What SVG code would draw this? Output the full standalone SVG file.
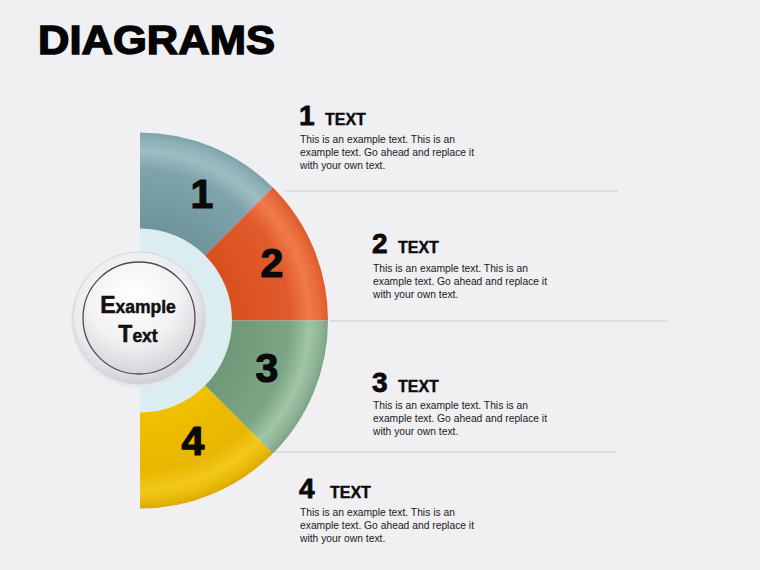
<svg xmlns="http://www.w3.org/2000/svg" width="760" height="570" viewBox="0 0 760 570">
<defs>
<style>
.num{font-family:"Liberation Sans",Arial,sans-serif;font-weight:bold;fill:#0a0a0a;stroke:#0a0a0a;stroke-linejoin:round}
.seg-num{font-size:41px;stroke-width:1.2;text-anchor:middle}
.head-num{font-size:28px;stroke-width:0.8}
.head{font-family:"Liberation Sans",Arial,sans-serif;font-weight:bold;font-size:16px;fill:#0a0a0a;stroke:#0a0a0a;stroke-width:0.4}
.body{font-family:"Liberation Sans",Arial,sans-serif;font-size:10.3px;fill:#1a1a1a}
.sep{stroke:#c9c9ce;stroke-width:1.2;fill:none}
.ctr{font-family:"Liberation Sans",Arial,sans-serif;font-weight:bold;fill:#111;stroke:#111;stroke-width:0.5;text-anchor:middle}
</style>
<radialGradient id="g1" gradientUnits="userSpaceOnUse" cx="140" cy="320.5" r="188">
<stop offset="0.49" stop-color="#6f949c"/><stop offset="0.8" stop-color="#7fa3ab"/><stop offset="0.9" stop-color="#9ebdc3"/><stop offset="0.96" stop-color="#8eb0b7"/><stop offset="1" stop-color="#7fa2aa"/>
</radialGradient>
<radialGradient id="g2" gradientUnits="userSpaceOnUse" cx="140" cy="320.5" r="188">
<stop offset="0.49" stop-color="#d9501f"/><stop offset="0.8" stop-color="#e25b2c"/><stop offset="0.9" stop-color="#f07a4c"/><stop offset="0.96" stop-color="#e86a3a"/><stop offset="1" stop-color="#e0592b"/>
</radialGradient>
<radialGradient id="g3" gradientUnits="userSpaceOnUse" cx="140" cy="320.5" r="188">
<stop offset="0.49" stop-color="#6e9878"/><stop offset="0.8" stop-color="#7ca585"/><stop offset="0.9" stop-color="#a0c4a6"/><stop offset="0.96" stop-color="#8fb597"/><stop offset="1" stop-color="#7ea487"/>
</radialGradient>
<radialGradient id="g4" gradientUnits="userSpaceOnUse" cx="140" cy="320.5" r="188">
<stop offset="0.49" stop-color="#f0c000"/><stop offset="0.8" stop-color="#e8b600"/><stop offset="0.9" stop-color="#f2c81c"/><stop offset="0.96" stop-color="#e9b90a"/><stop offset="1" stop-color="#dcaa00"/>
</radialGradient>
<radialGradient id="cOuter" cx="0.45" cy="0.4" r="0.6">
<stop offset="0" stop-color="#ffffff"/><stop offset="0.75" stop-color="#ececef"/><stop offset="1" stop-color="#cfcfd4"/>
</radialGradient>
<radialGradient id="cInner" cx="0.45" cy="0.3" r="0.75">
<stop offset="0" stop-color="#ffffff"/><stop offset="0.55" stop-color="#f2f2f4"/><stop offset="1" stop-color="#cfd0d4"/>
</radialGradient>
</defs>
<rect width="760" height="570" fill="#f0eff2"/>
<text x="38" y="54" font-family="Liberation Sans,Arial,sans-serif" font-weight="bold" font-size="40" fill="#050505" stroke="#050505" stroke-width="1.4" textLength="237" lengthAdjust="spacingAndGlyphs">DIAGRAMS</text>

<g id="separators">
<line class="sep" x1="285" y1="191" x2="618" y2="191"/>
<line class="sep" x1="330" y1="321" x2="667" y2="321"/>
<line class="sep" x1="272" y1="452" x2="616" y2="452"/>
</g>

<path id="inner-ring" d="M140,228.5 A92,92 0 0 1 140,412.5 Z" fill="#dcedf1"/>

<g id="segment-1">
<path d="M140,132.5 A188,188 0 0 1 272.9,187.6 L205.05,255.45 A92,92 0 0 0 140,228.5 Z" fill="url(#g1)"/>
<text class="num seg-num" x="202" y="208">1</text>
</g>
<g id="segment-2">
<path d="M272.9,187.6 A188,188 0 0 1 328,320.5 L232,320.5 A92,92 0 0 0 205.05,255.45 Z" fill="url(#g2)"/>
<text class="num seg-num" x="272" y="277">2</text>
</g>
<g id="segment-3">
<path d="M328,320.5 A188,188 0 0 1 272.9,453.4 L205.05,385.55 A92,92 0 0 0 232,320.5 Z" fill="url(#g3)"/>
<text class="num seg-num" x="267" y="382">3</text>
</g>
<g id="segment-4">
<path d="M272.9,453.4 A188,188 0 0 1 140,508.5 L140,412.5 A92,92 0 0 0 205.05,385.55 Z" fill="url(#g4)"/>
<text class="num seg-num" x="193" y="455">4</text>
</g>

<g id="center">
<circle cx="139" cy="320" r="68" fill="#e4e4e8" opacity="0.7"/>
<circle cx="139" cy="318" r="66" fill="url(#cOuter)" stroke="#d4d4d8" stroke-width="1"/>
<circle cx="139" cy="318" r="56" fill="url(#cInner)" stroke="#4a4a4e" stroke-width="1.3"/>
<text class="ctr" x="138" y="313"><tspan font-size="23">E</tspan><tspan font-size="17.5">xample</tspan></text>
<text class="ctr" x="138" y="342"><tspan font-size="23">T</tspan><tspan font-size="17.5">ext</tspan></text>
</g>

<g id="block-1">
<text class="num head-num" x="299" y="125">1</text>
<text class="head" x="325" y="125">TEXT</text>
<text class="body" x="300" y="143">This is an example text. This is an</text>
<text class="body" x="300" y="156">example text. Go ahead and replace it</text>
<text class="body" x="300" y="169">with your own text.</text>
</g>
<g id="block-2">
<text class="num head-num" x="372" y="253">2</text>
<text class="head" x="398" y="253">TEXT</text>
<text class="body" x="373" y="271.5">This is an example text. This is an</text>
<text class="body" x="373" y="284.5">example text. Go ahead and replace it</text>
<text class="body" x="373" y="297.5">with your own text.</text>
</g>
<g id="block-3">
<text class="num head-num" x="372" y="392">3</text>
<text class="head" x="398" y="392">TEXT</text>
<text class="body" x="373" y="409">This is an example text. This is an</text>
<text class="body" x="373" y="422">example text. Go ahead and replace it</text>
<text class="body" x="373" y="435">with your own text.</text>
</g>
<g id="block-4">
<text class="num head-num" x="299" y="498">4</text>
<text class="head" x="330" y="498">TEXT</text>
<text class="body" x="300" y="516">This is an example text. This is an</text>
<text class="body" x="300" y="529">example text. Go ahead and replace it</text>
<text class="body" x="300" y="542">with your own text.</text>
</g>
</svg>
